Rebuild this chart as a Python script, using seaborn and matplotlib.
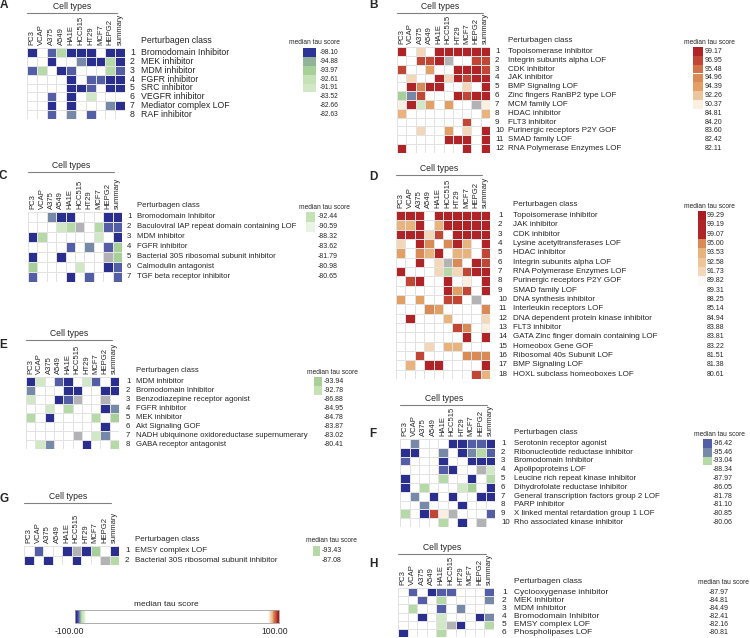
import numpy as np
import pandas as pd
import seaborn as sns
import matplotlib.pyplot as plt
from matplotlib.colors import LinearSegmentedColormap, Normalize
from matplotlib.patches import Rectangle
from matplotlib.lines import Line2D
from matplotlib.cm import ScalarMappable
from matplotlib import transforms, font_manager

W, H = 750, 638

CELL_TYPES = ['PC3', 'VCAP', 'A375', 'A549', 'HA1E', 'HCC515', 'HT29', 'MCF7', 'HEPG2', 'summary']

# tau score for each colour level seen in the cells
LEVELS = {'D': -99.0, 'M': -96.8, 'S': -96.2, 'Q': -95.5, 'G': -94.5, 'L': -93.0, 'P': -91.5,
          'R': 99.2, 'r': 97.0, 'O': 95.3, 'o': 94.5, 't': 93.5, 'p': 92.0, 'w': 90.5,
          '.': 0.0, 'x': np.nan}

A_CLASSES = ['Bromodomain Inhibitor', 'MEK inhibitor', 'MDM inhibitor', 'FGFR inhibitor',
             'SRC inhibitor', 'VEGFR inhibitor', 'Mediator complex LOF', 'RAF inhibitor']
A_TAU = [-98.10, -94.88, -93.97, -92.61, -91.91, -83.52, -82.66, -82.63]
A_CELLS = ['D.MLDDD.DD', '..D..QDDLD', 'ML.DM...LS', '....D.MMDD',
           '....DDM.DD', '..S.D.P...', '..D.D...QD', '..M.Q.M...']

B_CLASSES = ['Topoisomerase inhibitor', 'Integrin subunits alpha LOF', 'CDK inhibitor', 'JAK inhibitor',
             'BMP Signaling LOF', 'Zinc fingers RanBP2 type LOF', 'MCM family LOF', 'HDAC inhibitor',
             'FLT3 inhibitor', 'Purinergic receptors P2Y GOF', 'SMAD family LOF', 'RNA Polymerase Enzymes LOF']
B_TAU = [99.17, 96.95, 95.48, 94.96, 94.39, 92.26, 90.37, 84.81, 84.20, 83.60, 82.42, 82.11]
B_CELLS = ['R.p.RRRRRR', '..rrRx..rr', 'r..o..RRRr', '.p..RpRrRR',
           '.RORR..p.R', 'GQr...RrRR', 'wRPo.o..xw', 't........t',
           '.......r..', '..p..o.p.R', '.....RRR.R', 'R......R.R']

C_CLASSES = ['Bromodomain Inhibitor', 'Baculoviral IAP repeat domain containing LOF', 'MDM inhibitor',
             'FGFR inhibitor', 'Bacterial 30S ribosomal subunit inhibitor', 'Calmodulin antagonist',
             'TGF beta receptor inhibitor']
C_TAU = [-92.44, -90.59, -88.32, -83.62, -81.79, -80.98, -80.65]
C_CELLS = ['..QDD...DD', '...PLx.LMS', 'DL.....P.D', '....M.Q.MG',
           'D..D....xG', 'G....P..DS', 'M...D.M..M']

D_CLASSES = ['Topoisomerase inhibitor', 'JAK inhibitor', 'CDK inhibitor', 'Lysine acetyltransferases LOF',
             'HDAC inhibitor', 'Integrin subunits alpha LOF', 'RNA Polymerase Enzymes LOF',
             'Purinergic receptors P2Y GOF', 'SMAD family LOF', 'DNA synthesis inhibitor',
             'Interleukin receptors LOF', 'DNA dependent protein kinase inhibitor', 'FLT3 inhibitor',
             'GATA Zinc finger domain containing LOF', 'Homeobox Gene GOF', 'Ribosomal 40s Subunit LOF',
             'BMP Signaling LOF', 'HOXL subclass homeoboxes LOF']
D_TAU = [99.29, 99.19, 99.07, 95.00, 93.53, 92.58, 91.73, 89.82, 89.31, 88.25, 85.14, 84.94,
         83.88, 83.81, 83.22, 81.51, 81.38, 80.61]
D_CELLS = ['RRR.RRRRRR', 'ttR.tRRRRR', 'RRRpr.RRRR', 'p.RO.ORt.R', 'o.OtR.tt.r', '..R.pxO.Rr',
           'R...pLprRR', '.rR..R.w.R', '.....Ror.R', 'o.o..rr.x.', '...Oo....O', '.R...t...p',
           '......rO.w', '.......R.R', '...p.tt...', '..r....OOO', '.t.RR....R', '........rt']

E_CLASSES = ['MDM inhibitor', 'Bromodomain Inhibitor', 'Benzodiazepine receptor agonist', 'FGFR inhibitor',
             'MEK inhibitor', 'Akt Signaling GOF', 'NADH ubiquinone oxidoreductase supernumerary',
             'GABA receptor antagonist']
E_TAU = [-93.94, -92.78, -86.88, -84.95, -84.78, -83.87, -83.02, -80.41]
E_CELLS = ['DP.MD.PS.D', 'Q...DD..DD', 'P..DSx..x.', '..P.L...DQ',
           'L.D....L.G', '........D.', '.....x.PQ.', '.PQ...D..L']

F_CLASSES = ['Serotonin receptor agonist', 'Ribonucleotide reductase inhibitor', 'Bromodomain Inhibitor',
             'Apolipoproteins LOF', 'Leucine rich repeat kinase inhibitor', 'Dihydrofolate reductase inhibitor',
             'General transcription factors group 2 LOF', 'PARP inhibitor',
             'X linked mental retardation group 1 LOF', 'Rho associated kinase inhibitor']
F_TAU = [-96.42, -95.46, -93.04, -88.34, -87.97, -86.05, -81.78, -81.10, -80.85, -80.06]
F_CELLS = ['.Q...DDMMD', 'DD..Q.DQLM', 'M...D..DDD', '....SD..xP', 'D...L..D.L',
           'D.L...PG.D', '.Q.D.D..DD', '..Q...D...', 'L.Drwx...M', '....L.D.x.']

G_CLASSES = ['EMSY complex LOF', 'Bacterial 30S ribosomal subunit inhibitor']
G_TAU = [-93.43, -87.08]
G_CELLS = ['.M..DxDG.D', 'D.D..D..xL']

H_CLASSES = ['Cyclooxygenase inhibitor', 'MEK inhibitor', 'MDM inhibitor', 'Bromodomain Inhibitor',
             'EMSY complex LOF', 'Phospholipases LOF']
H_TAU = [-87.97, -84.81, -84.49, -82.41, -82.16, -80.81]
H_CELLS = ['.S.DMM...M', '..M.L....Q', '.L..M.Q...', '..D.P...DQ', '....PxD..L', 'D...L.....']

# colour stops of the tau scale
STOPS = [(-100, '#262a88'), (-98, '#30359a'), (-96.8, '#5560a8'), (-96.2, '#7282ac'),
         (-95.5, '#8aa89a'), (-94.8, '#a2cc94'), (-93, '#c4e2b6'), (-91.5, '#dcedd4'),
         (-90, '#f2f8ef'), (-89, '#ffffff'), (89, '#ffffff'), (90, '#fdf7f1'), (91.5, '#f7e3cc'),
         (92.5, '#f1d1ae'), (93.5, '#eab984'), (94.5, '#e3a064'), (95.3, '#da8a55'),
         (96.5, '#cd6444'), (97.5, '#c34a37'), (99, '#b3262a'), (100, '#a61e22')]
cmap = LinearSegmentedColormap.from_list('tau', [((v + 100) / 200, c) for v, c in STOPS])
norm = Normalize(-100, 100)

sns.set_theme(style='white')
plt.rcParams['font.family'] = ['Liberation Sans', 'DejaVu Sans']
names = {f.name for f in font_manager.fontManager.ttflist}
NARROW = 'Liberation Sans Narrow' if 'Liberation Sans Narrow' in names else 'Liberation Sans'
COL_FS = 6.2 if NARROW != 'Liberation Sans' else 5.5

fig = plt.figure(figsize=(W / 100, H / 100), dpi=100)


def box(x0, y0, x1, y1):
    return [x0 / W, 1 - y1 / H, (x1 - x0) / W, (y1 - y0) / H]


def panel(letter, classes, tau, cells, hm, line_y, letter_xy, num_x, lab_x, sw, val_x, mts, fs, vfs):
    x0, y0, x1, y1 = hm
    data = pd.DataFrame([[LEVELS[c] for c in row] for row in cells], index=classes, columns=CELL_TYPES)
    ax = fig.add_axes(box(*hm))
    ax.set_facecolor('#b3b3b5')
    sns.heatmap(data, ax=ax, cmap=cmap, vmin=-100, vmax=100, cbar=False,
                linewidths=0.5, linecolor='#e2e2e2', xticklabels=CELL_TYPES, yticklabels=False)
    ax.xaxis.tick_top()
    ax.set_xticklabels(CELL_TYPES, rotation=90, fontsize=COL_FS, family=NARROW, va='bottom')
    ax.tick_params(axis='x', length=0, pad=2)
    ax.set_xlabel('')
    ax.set_ylabel('')

    cw = (x1 - x0) / 10
    fig.add_artist(Line2D([x0 / W, (x0 + 9.2 * cw) / W], [1 - line_y / H] * 2,
                          color='#808080', lw=0.8))
    fig.text((x0 + 4.6 * cw) / W, 1 - (line_y - 2) / H, 'Cell types', fontsize=6.2,
             ha='center', va='bottom')
    fig.text(letter_xy[0] / W, 1 - letter_xy[1] / H, letter, fontsize=8.5, weight='bold',
             ha='center', va='center')
    fig.text(lab_x / W, 1 - (y0 - 3) / H, 'Perturbagen class', fontsize=fs, ha='left', va='bottom')
    fig.text(mts[0] / W, 1 - mts[1] / H, 'median tau score', fontsize=4.8, ha='center', va='center')

    trans = transforms.blended_transform_factory(fig.transFigure, ax.transData)
    for i, (name, v) in enumerate(zip(classes, tau)):
        ax.text(num_x / W, i + 0.5, str(i + 1), transform=trans, fontsize=fs, va='center', ha='left')
        ax.text(lab_x / W, i + 0.5, name, transform=trans, fontsize=fs, va='center', ha='left')
        ax.text(val_x / W, i + 0.5, f'{v:.2f}', transform=trans, fontsize=vfs, va='center', ha='left')
        if sw is not None and abs(v) >= 89.5:
            ax.add_patch(Rectangle((sw[0] / W, i), (sw[1] - sw[0]) / W, 1, transform=trans,
                                   facecolor=cmap(norm(v)), edgecolor='none', clip_on=False))


panel('A', A_CLASSES, A_TAU, A_CELLS, (27, 48, 125, 119), 13, (4, 5), 130, 141, (303, 316), 320, (314, 43), 6.3, 4.8)
panel('B', B_CLASSES, B_TAU, B_CELLS, (397, 47, 490, 153), 13, (373, 5), 495, 508, (693, 703), 705, (709, 43), 5.8, 5.0)
panel('C', C_CLASSES, C_TAU, C_CELLS, (28, 212, 122, 282), 172, (3, 176), 127, 137, (306, 315), 318, (324, 208), 5.6, 5.0)
panel('D', D_CLASSES, D_TAU, D_CELLS, (396, 211, 490, 379), 175, (373, 177), 498, 513, (698, 706), 707, (709, 206), 5.8, 5.0)
panel('E', E_CLASSES, E_TAU, E_CELLS, (26, 377, 119, 449), 340, (3, 345), 126, 136, (314, 322), 324, (332, 372), 5.6, 5.0)
panel('F', F_CLASSES, F_TAU, F_CELLS, (400, 439, 495, 527), 405, (373, 434), 501, 514, (703, 712), 713, (719, 434), 5.7, 5.0)
panel('G', G_CLASSES, G_TAU, G_CELLS, (24, 546, 119, 565), 503, (4, 499), 125, 135, (313, 320), 322, (331, 541), 5.8, 5.0)
panel('H', H_CLASSES, H_TAU, H_CELLS, (398, 588, 494, 637), 554, (373, 564), 502, 514, None, 709, (723, 583), 6.0, 5.0)

# shared colour scale
cax = fig.add_axes(box(75, 610, 279, 623))
cb = fig.colorbar(ScalarMappable(norm=norm, cmap=cmap), cax=cax, orientation='horizontal')
cb.set_ticks([])
cb.outline.set_edgecolor('#a0a0a0')
cb.outline.set_linewidth(0.6)
fig.text(166 / W, 1 - 604 / H, 'median tau score', fontsize=6, ha='center', va='center')
fig.text(69 / W, 1 - 632 / H, '-100.00', fontsize=6.2, ha='center', va='center')
fig.text(275 / W, 1 - 632 / H, '100.00', fontsize=6.2, ha='center', va='center')

fig.savefig('out.png', dpi=100, facecolor='white')
